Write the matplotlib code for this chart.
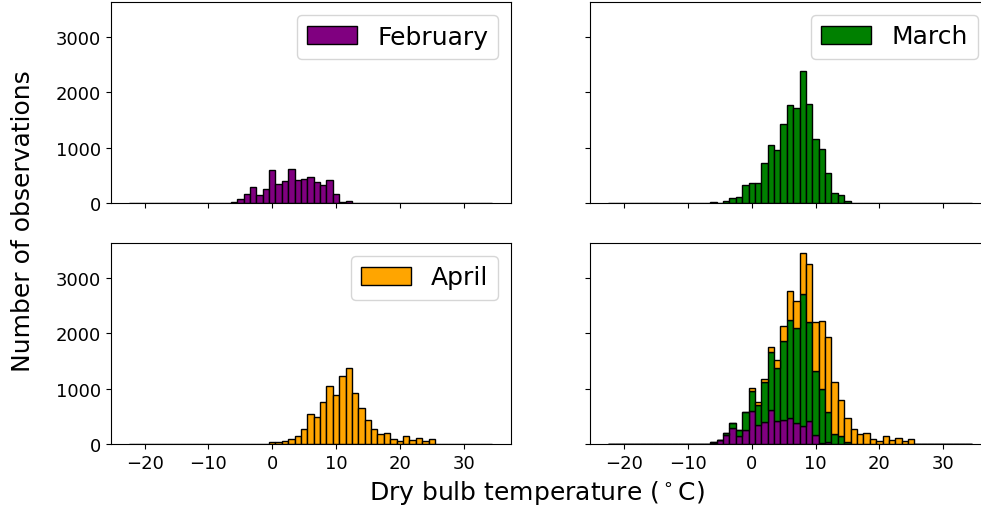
import numpy as np
import matplotlib
matplotlib.use("Agg")
import matplotlib.pyplot as plt

# Bin edges (1 degree wide) and counts read per bin
bin_edges = np.arange(-22.5, 35.0, 1.0)
bin_centers = bin_edges[:-1] + 0.5

# counts per bin, listed from a start bin (degrees C)
feb_start = -6
feb_vals = [20, 70, 170, 285, 145, 250, 600, 345, 400, 612, 412, 442, 467,
            382, 321, 412, 158, 12, 36]

mar_start = -6
mar_vals = [25, 5, 30, 85, 103, 321, 364, 364, 715, 1048, 958, 1424, 1764,
            1709, 2382, 1794, 1158, 982, 533, 188, 152, 42]

apr_start = 0
apr_vals = [42, 42, 55, 91, 139, 267, 533, 491, 752, 1048, 885, 1224, 1370,
            927, 642, 430, 267, 182, 200, 97, 61, 152, 73, 109, 61, 91, 8, 6, 4]

months = ["February", "March", "April"]
colors = ["purple", "green", "orange"]


def full_counts(start, vals):
    counts = np.zeros(len(bin_centers))
    i0 = int(np.where(bin_centers == start)[0][0])
    counts[i0:i0 + len(vals)] = vals
    return counts


feb = full_counts(feb_start, feb_vals)
mar = full_counts(mar_start, mar_vals)
apr = full_counts(apr_start, apr_vals)
all_counts = [feb, mar, apr]

fig = plt.figure(figsize=(9.81, 5.10), dpi=100)

w = 400 / 981
h = 201 / 510
ax_tl = fig.add_axes([110.5 / 981, 306 / 510, w, h])
ax_tr = fig.add_axes([590 / 981, 306 / 510, w, h], sharex=ax_tl, sharey=ax_tl)
ax_bl = fig.add_axes([110.5 / 981, 65 / 510, w, h], sharex=ax_tl, sharey=ax_tl)
ax_br = fig.add_axes([590 / 981, 65 / 510, w, h], sharex=ax_tl, sharey=ax_tl)

for ax, counts, color, label in zip([ax_tl, ax_tr, ax_bl], all_counts, colors, months):
    ax.hist(bin_centers, bins=bin_edges, weights=counts, color=color,
            edgecolor="black", label=label)
    ax.legend(loc="upper right", fontsize=18)

# combined stacked panel
ax_br.hist([bin_centers] * 3, bins=bin_edges, weights=all_counts, color=colors,
           edgecolor="black", stacked=True)

ax_tl.set_yticks([0, 1000, 2000, 3000])
ax_tl.set_xticks([-20, -10, 0, 10, 20, 30])

for ax in [ax_tl, ax_tr, ax_bl, ax_br]:
    ax.tick_params(labelsize=13)
for ax in [ax_tl, ax_tr]:
    ax.tick_params(labelbottom=False)
for ax in [ax_tr, ax_br]:
    ax.tick_params(labelleft=False)

fig.text(0.023, 0.567, "Number of observations", rotation=90,
         va="center", ha="center", fontsize=18)
fig.text(0.547, 0.033, r"Dry bulb temperature ($^\circ$C)",
         va="center", ha="center", fontsize=18)

fig.savefig("out.png", dpi=100)
